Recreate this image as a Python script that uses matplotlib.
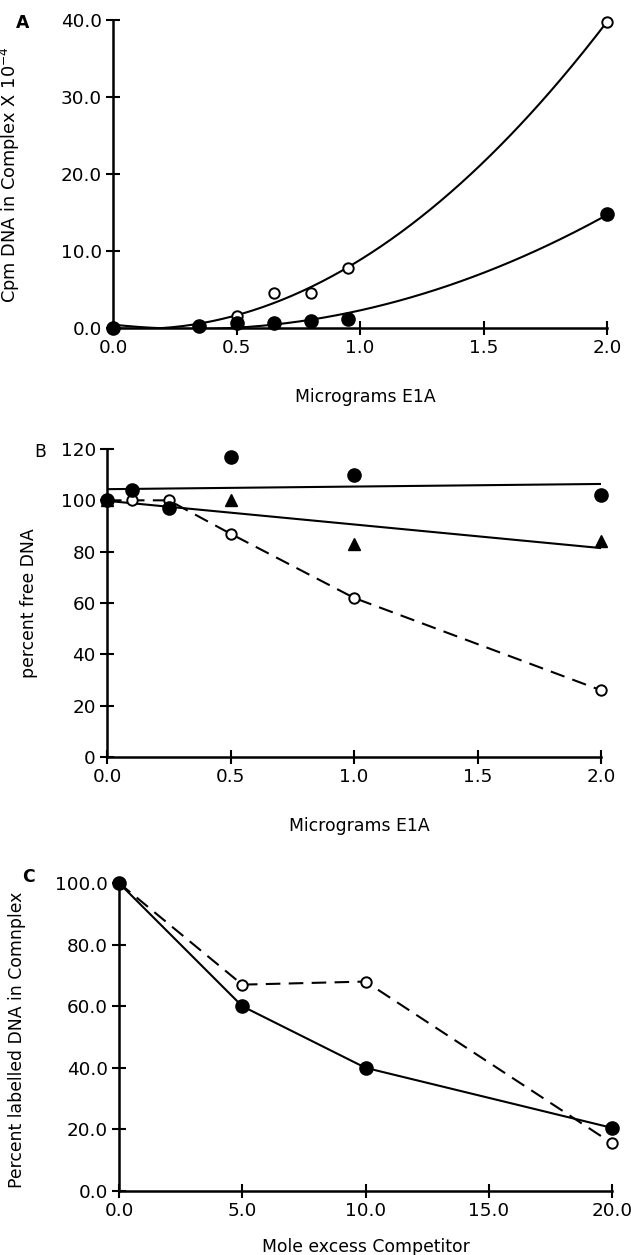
import numpy as np
import matplotlib.pyplot as plt

plt.rcParams['font.family'] = ['DejaVu Sans']
plt.rcParams['mathtext.fontset'] = 'dejavusans'

# -----------------------------
# Panel A: Cpm DNA in complex
# -----------------------------
a_x = [0.0, 0.35, 0.5, 0.65, 0.8, 0.95, 2.0]
a_open = [0.0, 0.3, 1.5, 4.5, 4.5, 7.8, 39.8]
a_filled = [0.0, 0.2, 0.7, 0.7, 0.9, 1.2, 14.8]

# -----------------------------
# Panel B: percent free DNA
# -----------------------------
b_x_filled = [0.0, 0.1, 0.25, 0.5, 1.0, 2.0]
b_filled = [100, 104, 97, 117, 110, 102]
b_x_tri = [0.0, 0.5, 1.0, 2.0]
b_tri = [100, 100, 83, 84]
b_x_open = [0.0, 0.1, 0.25, 0.5, 1.0, 2.0]
b_open = [100, 100, 100, 87, 62, 26]

# -----------------------------
# Panel C: competition
# -----------------------------
c_x = [0.0, 5.0, 10.0, 20.0]
c_filled = [100, 60, 40, 20.5]
c_open = [100, 67, 68, 15.5]

W, H = 631, 1255
FS_TICK = 13.2
FS_LAB = 12.4
fig = plt.figure(figsize=(W / 100, H / 100), dpi=100)


def make_axes(left, top, right, bottom):
    ax = fig.add_axes([left / W, 1 - bottom / H, (right - left) / W, (bottom - top) / H])
    for s in ['top', 'right']:
        ax.spines[s].set_visible(False)
    for s in ['left', 'bottom']:
        ax.spines[s].set_linewidth(1.8)
    ax.tick_params(direction='inout', length=10, width=1.5, labelsize=FS_TICK, pad=3)
    return ax


open_kw = dict(marker='o', ms=7.5, mfc='white', mec='black', mew=1.4, color='black', clip_on=False, zorder=3)
fill_kw = dict(marker='o', ms=9.5, mfc='black', mec='black', color='black', clip_on=False, zorder=4)

# ---- A ----
axA = make_axes(113, 20, 607, 328)
t = np.linspace(0, 2, 200)
pa_open = np.polyfit(a_x, a_open, 2)
pa_fill = np.polyfit(a_x, a_filled, 2)
axA.plot(t, np.polyval(pa_open, t), color='black', lw=1.5)
axA.plot(t, np.polyval(pa_fill, t), color='black', lw=1.5)
axA.plot(a_x, a_open, ls='none', **open_kw)
axA.plot(a_x, a_filled, ls='none', **fill_kw)
axA.set_xlim(0, 2)
axA.set_ylim(0, 40)
axA.set_xticks([0, 0.5, 1.0, 1.5, 2.0])
axA.set_yticks([0, 10, 20, 30, 40])
axA.set_xticklabels(['0.0', '0.5', '1.0', '1.5', '2.0'])
axA.set_yticklabels(['0.0', '10.0', '20.0', '30.0', '40.0'])
axA.set_xlabel('Micrograms E1A', fontsize=FS_LAB)
axA.xaxis.set_label_coords(0.51, -0.195)
axA.set_ylabel(r'Cpm DNA in Complex X 10$^{-4}$', fontsize=FS_LAB + 0.4)
axA.yaxis.set_label_coords(-0.184, 0.5)
fig.text(16 / W, 1 - 23 / H, 'A', fontsize=FS_LAB, fontweight='bold', va='center')

# ---- B ----
axB = make_axes(107, 449, 601, 757)
pb_fill = np.polyfit(b_x_filled, b_filled, 1)
pb_tri = np.polyfit(b_x_tri, b_tri, 1)
axB.plot(t, np.polyval(pb_fill, t), color='black', lw=1.5)
axB.plot(t, np.polyval(pb_tri, t), color='black', lw=1.5)
axB.plot(b_x_open, b_open, ls=(0, (7, 4)), lw=1.5, **open_kw)
axB.plot(b_x_tri, b_tri, ls='none', marker='^', ms=8.5, mfc='black', mec='black', clip_on=False, zorder=4)
axB.plot(b_x_filled, b_filled, ls='none', **fill_kw)
axB.set_xlim(0, 2)
axB.set_ylim(0, 120)
axB.set_xticks([0, 0.5, 1.0, 1.5, 2.0])
axB.set_xticklabels(['0.0', '0.5', '1.0', '1.5', '2.0'])
axB.set_yticks([0, 20, 40, 60, 80, 100, 120])
axB.set_xlabel('Micrograms E1A', fontsize=FS_LAB)
axB.xaxis.set_label_coords(0.51, -0.195)
axB.set_ylabel('percent free DNA', fontsize=FS_LAB)
axB.yaxis.set_label_coords(-0.14, 0.5)
fig.text(34 / W, 1 - 452 / H, 'B', fontsize=FS_LAB, va='center')

# ---- C ----
axC = make_axes(119, 883, 612, 1191)
axC.plot(c_x, c_open, ls=(0, (7, 4)), lw=1.5, **open_kw)
axC.plot(c_x, c_filled, ls='-', lw=1.5, **fill_kw)
axC.set_xlim(0, 20)
axC.set_ylim(0, 100)
axC.set_xticks([0, 5, 10, 15, 20])
axC.set_xticklabels(['0.0', '5.0', '10.0', '15.0', '20.0'])
axC.set_yticks([0, 20, 40, 60, 80, 100])
axC.set_yticklabels(['0.0', '20.0', '40.0', '60.0', '80.0', '100.0'])
axC.set_xlabel('Mole excess Competitor', fontsize=FS_LAB)
axC.xaxis.set_label_coords(0.5, -0.152)
axC.set_ylabel('Percent labelled DNA in Comnplex', fontsize=FS_LAB)
axC.yaxis.set_label_coords(-0.189, 0.49)
fig.text(28 / W, 1 - 877 / H, 'C', fontsize=FS_LAB, fontweight='bold', ha='center', va='center')

fig.savefig('out.png', dpi=100)
